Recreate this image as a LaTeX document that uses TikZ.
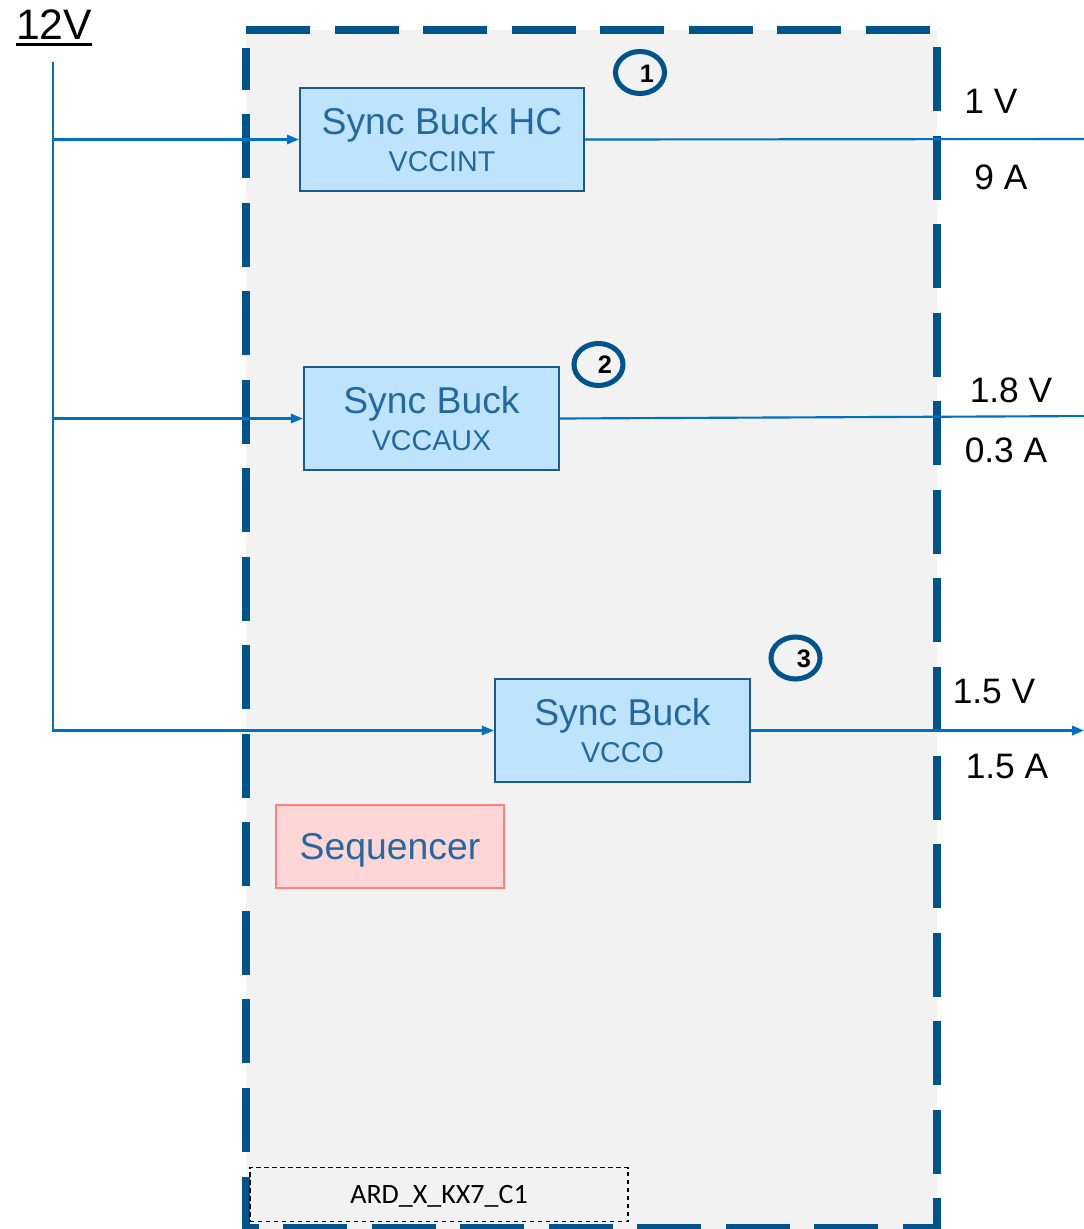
\documentclass[tikz,border=0pt]{standalone}
\usepackage{fontspec}
\setmainfont{Liberation Sans}
\newfontfamily\calib{Carlito}
\usetikzlibrary{arrows.meta,shapes.geometric}
\definecolor{bggray}{RGB}{242,242,242}
\definecolor{framecol}{RGB}{0,84,140}
\definecolor{linecol}{RGB}{0,112,192}
\definecolor{boxfill}{RGB}{189,228,252}
\definecolor{boxline}{RGB}{28,90,145}
\definecolor{boxtext}{RGB}{36,104,160}
\definecolor{seqfill}{RGB}{255,214,214}
\definecolor{seqline}{RGB}{255,128,128}
\begin{document}
\begin{tikzpicture}[x=0.75pt,y=-0.75pt,
  frame/.style={draw=framecol,line width=6pt,dash pattern=on 48pt off 18.4pt},
  buck/.style={draw=boxline,fill=boxfill,line width=1.5pt,text=boxtext,
    minimum height=77.5pt,inner sep=0pt,align=center,
    font=\fontsize{28}{27.75}\selectfont},
  seqbox/.style={draw=seqline,fill=seqfill,line width=1.5pt,text=boxtext,
    minimum width=171pt,minimum height=62.25pt,inner sep=0pt,text depth=0pt,
    font=\fontsize{28}{30}\selectfont},
  ardbox/.style={draw=black,line width=1.4pt,dash pattern=on 3.5pt off 2.5pt,
    minimum width=284pt,minimum height=40.5pt,inner sep=0pt,text depth=0pt,
    font=\calib\fontsize{21}{24}\selectfont},
  conn/.style={draw=linecol,line width=1.6pt},
  arr/.style={-{Triangle[length=9pt,width=7pt]}},
  badge/.style={ellipse,draw=framecol,line width=3.8pt,minimum width=36.75pt,
    minimum height=31.5pt,inner sep=0pt},
  num/.style={font=\bfseries\fontsize{19}{22}\selectfont,text=black,inner sep=0pt},
  vlabel/.style={font=\fontsize{26.5}{30}\selectfont,text=black,inner sep=0pt},
]
\useasboundingbox (0,0) rectangle (1084,1229);
\clip (0,0) rectangle (1084,1229);
% background panel and dashed frame
\fill[bggray] (246,30) rectangle (937,1229);
\draw[frame] (246,30) -- (937,30) -- (937,1228) -- (246,1228) -- (246,48);

% 12V label
\node[vlabel,font=\fontsize{32}{36}\selectfont] (v12) at (54,25) {12V};
\draw[black,line width=2.2pt] ([yshift=-3.4pt]v12.south west) -- ([yshift=-3.4pt]v12.south east);

% converter blocks
\node[buck,minimum width=213pt] (b1) at (442,139.5)
  {Sync Buck HC\\\fontsize{21.5}{27.75}\selectfont VCCINT};
\node[buck,minimum width=191.5pt] (b2) at (431.5,418.5)
  {Sync Buck\\\fontsize{21.5}{27.75}\selectfont VCCAUX};
\node[buck,minimum width=191.5pt] (b3) at (622.5,730.5)
  {Sync Buck\\\fontsize{21.5}{27.75}\selectfont VCCO};
\node[seqbox] (seq) at (390,846.5) {Sequencer};
\node[ardbox] (ard) at (439,1194.5) {ARD\_X\_KX7\_C1};

% numbered badges
\node[badge] (c1) at (640,72.5) {};
\node[num] (n1) at (647,74) {1};
\node[badge] (c2) at (598.5,364.5) {};
\node[num] (n2) at (605,365) {2};
\node[badge] (c3) at (795.5,658) {};
\node[num] (n3) at (804,658.5) {3};

% input rail
\coordinate (src) at (53,62);
\draw[conn,arr] (src) |- (b3.west);
\draw[conn,arr] (src |- b1.west) -- (b1.west);
\draw[conn,arr] (src |- b2.west) -- (b2.west);

% outputs
\coordinate (o1) at (1096,139);
\coordinate (o2) at (1096,416);
\coordinate (o3) at (1084,730.5);
\draw[conn,arr] (b1.east) -- (o1);
\draw[conn,arr] (b2.east) -- (o2);
\draw[conn,arr] (b3.east) -- (o3);

% output labels
\node[vlabel] (l1v) at (991,101) {1 V};
\node[vlabel] (l1a) at (1001,177) {9 A};
\node[vlabel] (l2v) at (1011,390) {1.8 V};
\node[vlabel] (l2a) at (1006,450) {0.3 A};
\node[vlabel] (l3v) at (994,692) {1.5 V};
\node[vlabel] (l3a) at (1007,767) {1.5 A};
\end{tikzpicture}
\end{document}
